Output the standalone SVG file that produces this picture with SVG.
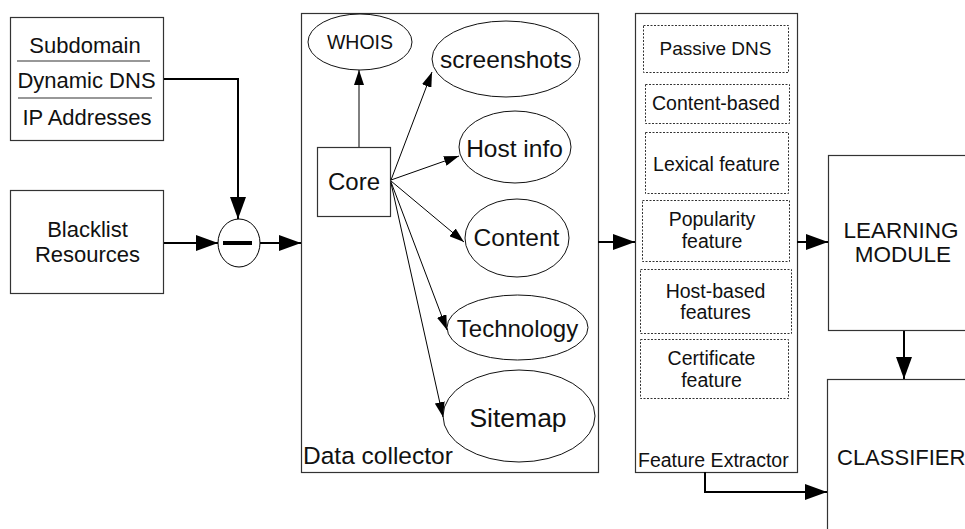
<svg xmlns="http://www.w3.org/2000/svg" width="965" height="529" viewBox="0 0 965 529">
<style>
text{font-family:"Liberation Sans",Arial,sans-serif;fill:#111}
.box{fill:#fff;stroke:#333;stroke-width:1.2}
.dot{fill:none;stroke:#333;stroke-width:1;stroke-dasharray:2,1.5}
.ell{fill:#fff;stroke:#111;stroke-width:1}
.thick{fill:none;stroke:#000;stroke-width:2;marker-end:url(#big)}
.thin{fill:none;stroke:#000;stroke-width:1;marker-end:url(#small)}
.m{text-anchor:middle}
</style>
<defs>
<marker id="big" markerUnits="userSpaceOnUse" markerWidth="22" markerHeight="16" refX="22" refY="8" orient="auto"><path d="M0,0 L22,8 L0,16 Z" fill="#000"/></marker>
<marker id="small" markerUnits="userSpaceOnUse" markerWidth="15" markerHeight="10" refX="15" refY="5" orient="auto"><path d="M0,0 L15,5 L0,10 Z" fill="#000"/></marker>
</defs>
<rect width="965" height="529" fill="#fff"/>

<g id="sources">
<rect class="box" x="10.5" y="17.5" width="153" height="123"/>
<line x1="17" y1="61" x2="150" y2="61" stroke="#333" stroke-width="1.2"/>
<line x1="18" y1="98" x2="152" y2="98" stroke="#333" stroke-width="1.2"/>
<text class="m" x="85" y="53" font-size="22">Subdomain</text>
<text class="m" x="86.5" y="88" font-size="22">Dynamic DNS</text>
<text class="m" x="87" y="125" font-size="22">IP Addresses</text>
</g>
<g id="blacklist">
<rect class="box" x="10.5" y="190.5" width="153" height="103"/>
<text class="m" x="87.5" y="237" font-size="22">Blacklist</text>
<text class="m" x="87.5" y="262" font-size="22">Resources</text>
</g>
<g id="minus">
<ellipse cx="239" cy="243" rx="21" ry="24" fill="#fff" stroke="#000" stroke-width="1"/>
<rect x="223" y="241" width="29" height="4" fill="#000"/>
</g>

<g id="data-collector">
<rect class="box" x="301.5" y="13.5" width="297" height="459"/>
<text x="303" y="464" font-size="24.5">Data collector</text>
</g>
<g id="core">
<rect class="box" x="317.5" y="147.5" width="73" height="69"/>
<text class="m" x="354" y="190" font-size="24">Core</text>
</g>
<g id="whois">
<ellipse class="ell" cx="360" cy="42" rx="52" ry="28"/>
<text class="m" x="360" y="49" font-size="19.5">WHOIS</text>
</g>
<g id="screenshots">
<ellipse class="ell" cx="506" cy="59" rx="74" ry="38"/>
<text class="m" x="506" y="68" font-size="24.5">screenshots</text>
</g>
<g id="host-info">
<ellipse class="ell" cx="515" cy="147" rx="56" ry="36"/>
<text class="m" x="514.5" y="157" font-size="24.5">Host info</text>
</g>
<g id="content">
<ellipse class="ell" cx="517" cy="238" rx="52" ry="39"/>
<text class="m" x="516.5" y="246" font-size="24.5">Content</text>
</g>
<g id="technology">
<ellipse class="ell" cx="517.5" cy="327.5" rx="70.5" ry="32.5"/>
<text class="m" x="517.5" y="337" font-size="24">Technology</text>
</g>
<g id="sitemap">
<ellipse class="ell" cx="519" cy="416" rx="76" ry="46"/>
<text class="m" x="518" y="427" font-size="26.5">Sitemap</text>
</g>

<g id="feature-extractor">
<rect class="box" x="635.5" y="13.5" width="162" height="459"/>
<text x="638" y="467" font-size="19.5">Feature Extractor</text>
</g>
<g id="passive-dns">
<rect class="dot" x="643.5" y="25.5" width="145" height="47"/>
<text class="m" x="715.5" y="55" font-size="19">Passive DNS</text>
</g>
<g id="content-based">
<rect class="dot" x="645.5" y="84.5" width="144" height="39"/>
<text class="m" x="716" y="110" font-size="19.5">Content-based</text>
</g>
<g id="lexical">
<rect class="dot" x="645.5" y="132.5" width="143" height="61"/>
<text class="m" x="716.5" y="171" font-size="19.5">Lexical feature</text>
</g>
<g id="popularity">
<rect class="dot" x="642.5" y="200.5" width="147" height="61"/>
<text class="m" x="712" y="226" font-size="19.5">Popularity</text>
<text class="m" x="712" y="248" font-size="19.5">feature</text>
</g>
<g id="host-based">
<rect class="dot" x="640.5" y="269.5" width="151" height="64"/>
<text class="m" x="715.5" y="298" font-size="19.5">Host-based</text>
<text class="m" x="715.5" y="319" font-size="19.5">features</text>
</g>
<g id="certificate">
<rect class="dot" x="640.5" y="339.5" width="148" height="59"/>
<text class="m" x="711.5" y="365" font-size="19.5">Certificate</text>
<text class="m" x="711.5" y="387" font-size="19.5">feature</text>
</g>

<g id="learning-module">
<rect class="box" x="828.5" y="155.5" width="150" height="175"/>
<text class="m" x="901" y="238" font-size="22.5">LEARNING</text>
<text class="m" x="903" y="262" font-size="22.5">MODULE</text>
</g>
<g id="classifier">
<rect class="box" x="827.5" y="379.5" width="150" height="170"/>
<text x="837" y="465" font-size="22">CLASSIFIER</text>
</g>

<g id="connectors">
<polyline class="thick" points="164,79 238,79 238,219"/>
<line class="thick" x1="164" y1="243" x2="218" y2="243"/>
<line class="thick" x1="260" y1="243" x2="301" y2="243"/>
<line class="thick" x1="598" y1="242" x2="635" y2="242"/>
<line class="thick" x1="797" y1="242" x2="828" y2="242"/>
<line class="thick" x1="904" y1="331" x2="904" y2="379"/>
<polyline class="thick" points="705,472 705,492 827,492"/>
<line class="thin" x1="359" y1="147" x2="359" y2="70"/>
<line class="thin" x1="391" y1="180" x2="432" y2="72"/>
<line class="thin" x1="391" y1="180" x2="459" y2="156"/>
<line class="thin" x1="391" y1="181" x2="464" y2="242"/>
<line class="thin" x1="391" y1="182" x2="447" y2="330"/>
<line class="thin" x1="391" y1="183" x2="443" y2="417"/>
</g>
</svg>
